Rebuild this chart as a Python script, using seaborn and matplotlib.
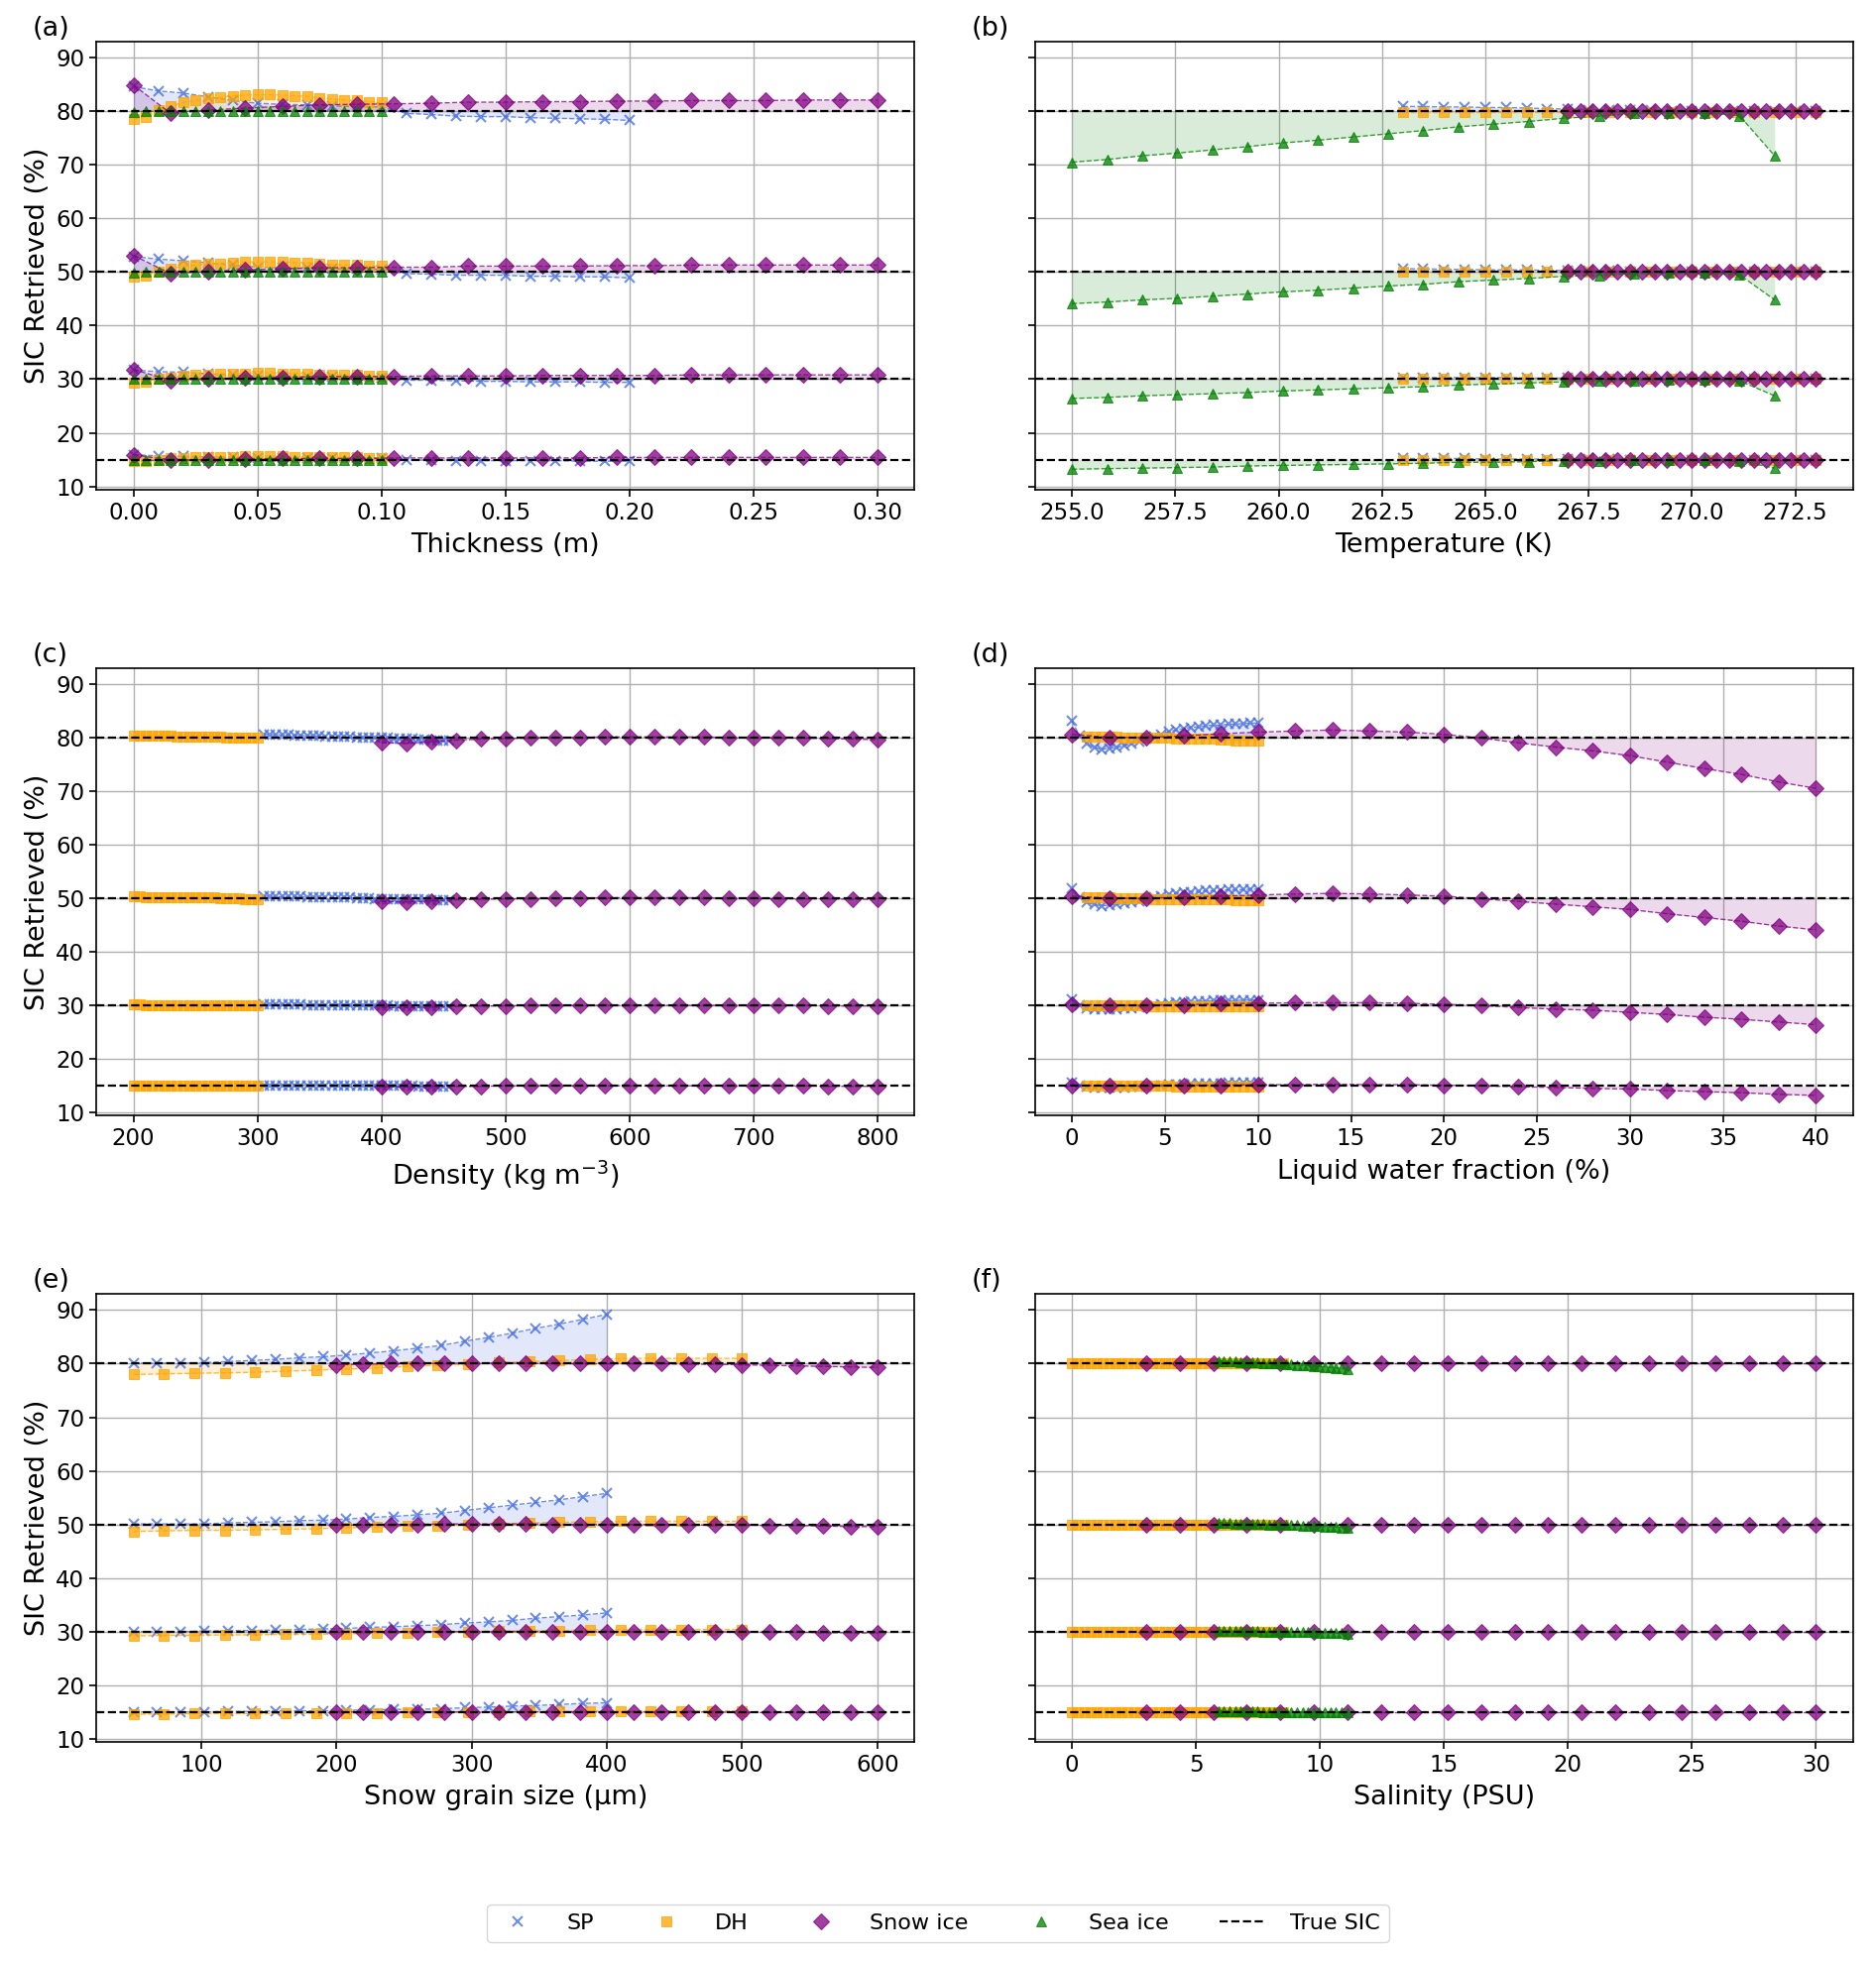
import numpy as np
import seaborn as sns
import matplotlib
matplotlib.use("Agg")
import matplotlib.pyplot as plt
from matplotlib.lines import Line2D

# True SIC levels (rows of every list below follow this order)
levels = [80, 50, 30, 15]

# (a) thickness
a_x_sp = np.linspace(0, 0.2, 21)
a_x_dh = np.linspace(0, 0.1, 21)
a_x_snow = np.linspace(0, 0.3, 21)
a_x_sea = np.linspace(0, 0.1, 21)
a_sp = [[84.6, 83.8, 83.4, 82.7, 82.0, 81.5, 81.3, 81.2, 81.0, 80.9, 80.8, 79.6, 79.4, 79.1, 79.0, 79.0, 78.8, 78.7, 78.6, 78.5, 78.3],
        [52.9, 52.4, 52.1, 51.7, 51.3, 50.9, 50.8, 50.8, 50.6, 50.6, 50.5, 49.7, 49.6, 49.4, 49.4, 49.4, 49.2, 49.2, 49.1, 49.1, 48.9],
        [31.7, 31.4, 31.3, 31.0, 30.8, 30.6, 30.5, 30.5, 30.4, 30.3, 30.3, 29.8, 29.8, 29.7, 29.6, 29.6, 29.5, 29.5, 29.5, 29.4, 29.4],
        [15.9, 15.7, 15.6, 15.5, 15.4, 15.3, 15.2, 15.2, 15.2, 15.2, 15.2, 14.9, 14.9, 14.8, 14.8, 14.8, 14.8, 14.8, 14.7, 14.7, 14.7]]
a_dh = [[78.5, 79.0, 80.2, 80.9, 81.7, 82.0, 82.4, 82.6, 82.9, 83.0, 83.1, 83.1, 83.0, 82.9, 82.8, 82.5, 82.3, 82.1, 82.0, 81.8, 81.7],
        [49.1, 49.4, 50.1, 50.6, 51.1, 51.3, 51.5, 51.6, 51.8, 51.9, 51.9, 51.9, 51.9, 51.8, 51.8, 51.6, 51.4, 51.3, 51.3, 51.1, 51.1],
        [29.4, 29.6, 30.1, 30.3, 30.6, 30.8, 30.9, 31.0, 31.1, 31.1, 31.2, 31.2, 31.1, 31.1, 31.1, 30.9, 30.9, 30.8, 30.8, 30.7, 30.6],
        [14.7, 14.8, 15.0, 15.2, 15.3, 15.4, 15.5, 15.5, 15.5, 15.6, 15.6, 15.6, 15.6, 15.5, 15.5, 15.5, 15.4, 15.4, 15.4, 15.3, 15.3]]
a_snow = [[84.9, 79.6, 80.2, 80.6, 80.9, 81.2, 81.3, 81.4, 81.5, 81.7, 81.7, 81.8, 81.8, 81.9, 81.9, 82.0, 82.0, 82.0, 82.1, 82.1, 82.1],
          [53.1, 49.7, 50.1, 50.4, 50.6, 50.8, 50.8, 50.9, 50.9, 51.1, 51.1, 51.1, 51.1, 51.2, 51.2, 51.3, 51.3, 51.3, 51.3, 51.3, 51.3],
          [31.8, 29.8, 30.1, 30.2, 30.3, 30.5, 30.5, 30.5, 30.6, 30.6, 30.6, 30.7, 30.7, 30.7, 30.7, 30.8, 30.8, 30.8, 30.8, 30.8, 30.8],
          [15.9, 14.9, 15.0, 15.1, 15.2, 15.2, 15.2, 15.3, 15.3, 15.3, 15.3, 15.3, 15.3, 15.4, 15.4, 15.4, 15.4, 15.4, 15.4, 15.4, 15.4]]
a_sea = [[79.9] + [80.0] * 20,
         [49.9] + [50.0] * 20,
         [30.0] * 21,
         [15.0] * 21]

# (b) temperature
b_x_sp = np.linspace(263, 273, 21)
b_x_dh = np.linspace(263, 273, 21)
b_x_snow = np.linspace(267, 273, 21)
b_x_sea = np.linspace(255, 272, 21)
b_sp = [[80.9, 80.9, 80.8, 80.8, 80.7, 80.7, 80.6, 80.5, 80.4, 80.3, 80.3, 80.2, 80.2, 80.1, 80.1, 80.1, 80.0, 80.0, 80.0, 80.0, 80.0],
        [50.6, 50.6, 50.5, 50.5, 50.4, 50.4, 50.4, 50.3, 50.3, 50.2, 50.2, 50.1, 50.1, 50.1, 50.1, 50.1, 50.0, 50.0, 50.0, 50.0, 50.0],
        [30.3, 30.3, 30.3, 30.3, 30.3, 30.3, 30.2, 30.2, 30.2, 30.1, 30.1, 30.1, 30.1, 30.0, 30.0, 30.0, 30.0, 30.0, 30.0, 30.0, 30.0],
        [15.2, 15.2, 15.2, 15.2, 15.1, 15.1, 15.1, 15.1, 15.1, 15.1, 15.1, 15.0, 15.0, 15.0, 15.0, 15.0, 15.0, 15.0, 15.0, 15.0, 15.0]]
b_dh = [[79.9] * 21, [50.0] * 21, [30.0] * 21, [15.0] * 21]
b_snow = [[80.0] * 21, [50.0] * 21, [30.0] * 21, [15.0] * 21]
b_sea = [[70.5, 71.0, 71.7, 72.2, 72.8, 73.4, 74.1, 74.6, 75.2, 75.8, 76.4, 77.1, 77.6, 78.1, 78.7, 79.1, 79.6, 79.7, 79.7, 79.2, 71.7],
         [44.1, 44.4, 44.8, 45.1, 45.5, 45.9, 46.3, 46.6, 47.0, 47.4, 47.7, 48.2, 48.5, 48.8, 49.2, 49.4, 49.7, 49.8, 49.8, 49.5, 44.8],
         [26.4, 26.6, 26.9, 27.1, 27.3, 27.5, 27.8, 28.0, 28.2, 28.4, 28.6, 28.9, 29.1, 29.3, 29.5, 29.7, 29.8, 29.9, 29.9, 29.7, 26.9],
         [13.2, 13.3, 13.4, 13.5, 13.6, 13.8, 13.9, 14.0, 14.1, 14.2, 14.3, 14.5, 14.5, 14.6, 14.8, 14.8, 14.9, 14.9, 14.9, 14.8, 13.4]]

# (c) density
c_x_dh = np.linspace(200, 300, 21)
c_x_sp = np.linspace(305, 455, 31)
c_x_snow = np.linspace(400, 800, 21)
c_dh = [[80.4, 80.4, 80.4, 80.3, 80.3, 80.3, 80.3, 80.2, 80.2, 80.2, 80.2, 80.1, 80.1, 80.1, 80.1, 80.0, 80.0, 80.0, 79.9, 79.9, 79.9],
        [50.3, 50.3, 50.2, 50.2, 50.2, 50.2, 50.2, 50.1, 50.1, 50.1, 50.1, 50.1, 50.1, 50.1, 50.0, 50.0, 50.0, 50.0, 49.9, 49.9, 49.9],
        [30.2, 30.2, 30.1, 30.1, 30.1, 30.1, 30.1, 30.1, 30.1, 30.1] + [30.0] * 11,
        [15.1] * 5 + [15.0] * 16]
c_sp = [[80.6, 80.6, 80.5, 80.5, 80.5, 80.4, 80.4, 80.3, 80.3, 80.3, 80.2, 80.2, 80.2, 80.1, 80.1, 80.0,
         80.0, 80.0, 79.9, 79.9, 79.9, 79.8, 79.8, 79.7, 79.7, 79.6, 79.6, 79.5, 79.5, 79.4, 79.4],
        [50.4, 50.4, 50.3, 50.3, 50.3, 50.3, 50.3, 50.2, 50.2, 50.2, 50.1, 50.1, 50.1, 50.1, 50.1, 50.0,
         50.0, 50.0, 49.9, 49.9, 49.9, 49.9, 49.9, 49.8, 49.8, 49.8, 49.8, 49.7, 49.7, 49.6, 49.6],
        [30.2] * 7 + [30.1] * 6 + [30.0] * 8 + [29.9] * 6 + [29.8] * 4,
        [15.1] * 13 + [15.0] * 12 + [14.9] * 6]
c_snow = [[79.0, 78.9, 79.2, 79.5, 79.7, 79.8, 79.9, 80.0, 80.0, 80.1, 80.1, 80.1, 80.1, 80.1, 80.0, 80.0, 79.9, 79.9, 79.8, 79.7, 79.6],
          [49.4, 49.3, 49.5, 49.7, 49.8, 49.9, 49.9, 50.0, 50.0, 50.1, 50.1, 50.1, 50.1, 50.1, 50.0, 50.0, 49.9, 49.9, 49.9, 49.8, 49.8],
          [29.6, 29.6, 29.7, 29.8, 29.9, 29.9] + [30.0] * 12 + [29.9] * 3,
          [14.8, 14.8, 14.9, 14.9, 14.9] + [15.0] * 13 + [14.9] * 3]

# (d) liquid water fraction
d_x_sp = np.linspace(0, 10, 26)
d_x_dh = np.linspace(0.8, 10, 24)
d_x_snow = np.linspace(0, 40, 21)
d_sp = [[83.1, 80.3, 78.8, 78.1, 77.8, 78.0, 78.1, 78.5, 78.8, 79.2, 79.7, 80.1, 80.6, 81.1, 81.4, 81.7, 81.9, 82.0, 82.2, 82.3, 82.3, 82.5, 82.5, 82.6, 82.7, 82.7],
        [51.9, 50.2, 49.2, 48.8, 48.6, 48.7, 48.8, 49.1, 49.2, 49.5, 49.8, 50.1, 50.4, 50.7, 50.9, 51.1, 51.2, 51.3, 51.4, 51.4, 51.4, 51.6, 51.6, 51.6, 51.7, 51.7],
        [31.2, 30.1, 29.5, 29.3, 29.2, 29.2, 29.3, 29.4, 29.5, 29.7, 29.9, 30.0, 30.2, 30.4, 30.5, 30.6, 30.7, 30.8, 30.8, 30.9, 30.9, 30.9, 30.9, 31.0, 31.0, 31.0],
        [15.6, 15.1, 14.8, 14.6, 14.6, 14.6, 14.6, 14.7, 14.8, 14.8, 14.9, 15.0, 15.1, 15.2, 15.3, 15.3, 15.4, 15.4, 15.4, 15.4, 15.4, 15.5, 15.5, 15.5, 15.5, 15.5]]
d_dh = [[80.1, 80.1, 80.1, 80.1, 80.1, 80.0, 80.0, 80.0, 80.0, 79.9, 79.9, 79.9, 79.8, 79.8, 79.8, 79.7, 79.7, 79.7, 79.6, 79.6, 79.5, 79.5, 79.5, 79.4],
        [50.1, 50.1, 50.1, 50.1, 50.0, 50.0, 50.0, 50.0, 50.0, 49.9, 49.9, 49.9, 49.9, 49.9, 49.9, 49.8, 49.8, 49.8, 49.8, 49.8, 49.7, 49.7, 49.7, 49.6],
        [30.0] * 9 + [29.9] * 9 + [29.8] * 6,
        [15.0] * 12 + [14.9] * 12]
d_snow = [[80.6, 80.0, 80.0, 80.3, 80.7, 81.0, 81.2, 81.4, 81.2, 81.0, 80.6, 79.9, 79.0, 78.2, 77.5, 76.6, 75.4, 74.2, 73.1, 71.7, 70.5],
          [50.4, 50.0, 50.0, 50.2, 50.4, 50.6, 50.8, 50.9, 50.8, 50.6, 50.4, 49.9, 49.4, 48.9, 48.4, 47.9, 47.1, 46.4, 45.7, 44.8, 44.1],
          [30.2, 30.0, 30.0, 30.1, 30.3, 30.4, 30.5, 30.5, 30.5, 30.4, 30.2, 30.0, 29.6, 29.3, 29.1, 28.7, 28.3, 27.8, 27.4, 26.9, 26.4],
          [15.1, 15.0, 15.0, 15.1, 15.1, 15.2, 15.2, 15.3, 15.2, 15.2, 15.1, 15.0, 14.8, 14.7, 14.5, 14.4, 14.1, 13.9, 13.7, 13.4, 13.2]]

# (e) snow grain size
e_x_sp = np.linspace(50, 400, 21)
e_x_dh = np.linspace(50, 500, 21)
e_x_snow = np.linspace(200, 600, 21)
e_sp = [[80.1, 80.1, 80.1, 80.2, 80.4, 80.6, 80.8, 81.1, 81.3, 81.6, 82.0, 82.4, 82.9, 83.4, 84.2, 84.9, 85.7, 86.6, 87.4, 88.3, 89.2],
        [50.1, 50.1, 50.1, 50.1, 50.3, 50.4, 50.5, 50.7, 50.8, 51.0, 51.3, 51.5, 51.8, 52.1, 52.6, 53.1, 53.6, 54.1, 54.6, 55.2, 55.8],
        [30.0, 30.0, 30.0, 30.1, 30.2, 30.2, 30.3, 30.4, 30.5, 30.6, 30.8, 30.9, 31.1, 31.3, 31.6, 31.8, 32.1, 32.5, 32.8, 33.1, 33.5],
        [15.0, 15.0, 15.0, 15.0, 15.1, 15.1, 15.2, 15.2, 15.2, 15.3, 15.4, 15.5, 15.5, 15.6, 15.8, 15.9, 16.1, 16.2, 16.4, 16.6, 16.7]]
e_dh = [[78.0, 78.1, 78.2, 78.3, 78.4, 78.6, 78.8, 79.0, 79.2, 79.5, 79.7, 79.9, 80.2, 80.4, 80.6, 80.8, 81.0, 81.0, 81.0, 81.0, 81.0],
        [48.7, 48.8, 48.9, 48.9, 49.0, 49.1, 49.2, 49.4, 49.5, 49.7, 49.8, 49.9, 50.1, 50.3, 50.4, 50.5, 50.6, 50.6, 50.6, 50.6, 50.6],
        [29.2, 29.3, 29.3, 29.4, 29.4, 29.5, 29.5, 29.6, 29.7, 29.8, 29.9, 30.0, 30.1, 30.2, 30.2, 30.3, 30.4, 30.4, 30.4, 30.4, 30.4],
        [14.6, 14.6, 14.7, 14.7, 14.7, 14.7, 14.8, 14.8, 14.8, 14.9, 14.9, 15.0, 15.0, 15.1, 15.1, 15.2, 15.2, 15.2, 15.2, 15.2, 15.2]]
e_snow = [[79.8, 79.9, 80.0, 80.0, 80.1, 80.1, 80.1, 80.1, 80.0, 80.0, 80.0, 80.0, 80.0, 79.9, 79.9, 79.8, 79.7, 79.6, 79.5, 79.4, 79.3],
          [49.9, 49.9, 50.0, 50.0, 50.1, 50.1, 50.1, 50.1, 50.0, 50.0, 50.0, 50.0, 50.0, 49.9, 49.9, 49.9, 49.8, 49.8, 49.7, 49.6, 49.6],
          [29.9] + [30.0] * 14 + [29.9, 29.9, 29.9, 29.8, 29.8, 29.7],
          [15.0] * 15 + [14.9] * 6]

# (f) salinity
f_x_dh = np.linspace(0, 8.5, 35)
f_x_sea = np.linspace(5.9, 11.1, 24)
f_x_snow = np.linspace(3, 30, 21)
f_dh = [[80.0] * 35, [50.0] * 35, [30.0] * 35, [15.0] * 35]
f_snow = [[80.0] * 21, [50.0] * 21, [30.0] * 21, [15.0] * 21]
f_sea = [[80.5, 80.5, 80.4, 80.4, 80.3, 80.3, 80.2, 80.2, 80.1, 80.1, 80.0, 80.0, 79.9, 79.9, 79.8, 79.7, 79.7, 79.6, 79.5, 79.4, 79.3, 79.2, 79.1, 79.0],
         [50.3, 50.3, 50.3, 50.2, 50.2, 50.2, 50.1, 50.1, 50.1, 50.0, 50.0, 50.0, 49.9, 49.9, 49.9, 49.8, 49.8, 49.7, 49.7, 49.6, 49.6, 49.5, 49.4, 49.4],
         [30.2, 30.2, 30.2, 30.1, 30.1, 30.1, 30.1, 30.1, 30.0, 30.0, 30.0, 30.0, 30.0, 30.0, 29.9, 29.9, 29.9, 29.9, 29.8, 29.8, 29.8, 29.7, 29.7, 29.6],
         [15.1] * 8 + [15.0] * 8 + [14.9] * 8]

panel_tags = ['(a)', '(b)', '(c)', '(d)', '(e)', '(f)']
xlabels = ['Thickness (m)', 'Temperature (K)', 'Density (kg m$^{-3}$)',
           'Liquid water fraction (%)', 'Snow grain size (μm)', 'Salinity (PSU)']
xticks = [[0, 0.05, 0.10, 0.15, 0.20, 0.25, 0.30],
          [255, 257.5, 260, 262.5, 265, 267.5, 270, 272.5],
          [200, 300, 400, 500, 600, 700, 800],
          [0, 5, 10, 15, 20, 25, 30, 35, 40],
          [100, 200, 300, 400, 500, 600],
          [0, 5, 10, 15, 20, 25, 30]]
yticks = [10, 20, 30, 40, 50, 60, 70, 80, 90]

#Series style: name -> (colour, marker, marker size)
styles = {
    'SP': ('royalblue', 'x', 7.5),
    'DH': ('orange', 's', 6.5),
    'Snow ice': ('purple', 'D', 8),
    'Sea ice': ('green', '^', 7),
}

panels = [
    [('SP', a_x_sp, a_sp), ('DH', a_x_dh, a_dh), ('Snow ice', a_x_snow, a_snow), ('Sea ice', a_x_sea, a_sea)],
    [('SP', b_x_sp, b_sp), ('DH', b_x_dh, b_dh), ('Snow ice', b_x_snow, b_snow), ('Sea ice', b_x_sea, b_sea)],
    [('SP', c_x_sp, c_sp), ('DH', c_x_dh, c_dh), ('Snow ice', c_x_snow, c_snow)],
    [('SP', d_x_sp, d_sp), ('DH', d_x_dh, d_dh), ('Snow ice', d_x_snow, d_snow)],
    [('SP', e_x_sp, e_sp), ('DH', e_x_dh, e_dh), ('Snow ice', e_x_snow, e_snow)],
    [('DH', f_x_dh, f_dh), ('Snow ice', f_x_snow, f_snow), ('Sea ice', f_x_sea, f_sea)],
]


def draw_series(ax, name, x, rows):  #fill to the true SIC, then dashed line with markers
    colour, marker, size = styles[name]
    for lvl, y in zip(levels, rows):
        ax.fill_between(x, y, lvl, color=colour, alpha=0.15, linewidth=0, zorder=1)
        sns.lineplot(x=x, y=y, ax=ax, color=colour, marker=marker, markersize=size,
                     markeredgecolor=colour, markeredgewidth=1.5 if marker == 'x' else 0.8,
                     linestyle='--', linewidth=1.0, alpha=0.75, estimator=None,
                     errorbar=None, legend=False, zorder=2)


fig, axes = plt.subplots(3, 2, figsize=(18.92, 19.8), dpi=100, sharey=True)
fig.subplots_adjust(left=0.0513, right=0.9878, top=0.9788, bottom=0.1126,
                    wspace=0.147, hspace=0.398)

for i, ax in enumerate(axes.flat):
    for name, x, rows in panels[i]:
        draw_series(ax, name, x, rows)
    for lvl in levels:
        ax.axhline(lvl, color='black', linestyle='--', linewidth=1.6, zorder=3)
    ax.set_xticks(xticks[i])
    ax.set_yticks(yticks)
    ax.set_ylim(9.4, 93.0)
    ax.grid(True, color='#b0b0b0', linewidth=1.0)
    ax.set_axisbelow(True)
    ax.set_xlabel(xlabels[i], fontsize=19.5, labelpad=6)
    ax.set_ylabel('SIC Retrieved (%)' if i % 2 == 0 else '', fontsize=19.5)
    ax.tick_params(labelsize=16.5, length=5, width=1.2)
    for s in ax.spines.values():
        s.set_linewidth(1.2)
        s.set_color('black')
    ax.text(-0.078, 1.0, panel_tags[i], transform=ax.transAxes, fontsize=19.5,
            ha='left', va='bottom')

axes[0, 0].xaxis.set_major_formatter(matplotlib.ticker.FormatStrFormatter('%.2f'))
axes[0, 1].xaxis.set_major_formatter(matplotlib.ticker.FormatStrFormatter('%.1f'))

handles = []
for name in ['SP', 'DH', 'Snow ice', 'Sea ice']:
    colour, marker, size = styles[name]
    handles.append(Line2D([], [], color=colour, marker=marker, linestyle='None',
                          markersize=size, markeredgecolor=colour, alpha=0.75,
                          markeredgewidth=1.5 if marker == 'x' else 0.8))
handles.append(Line2D([], [], color='black', linestyle='--', linewidth=1.6))
fig.legend(handles, ['SP', 'DH', 'Snow ice', 'Sea ice', 'True SIC'], loc='lower center',
           bbox_to_anchor=(0.5, 0.005), ncol=5, fontsize=16, handlelength=2.0,
           handletextpad=1.2, columnspacing=2.3, frameon=True)

fig.savefig('out.png', dpi=100)
